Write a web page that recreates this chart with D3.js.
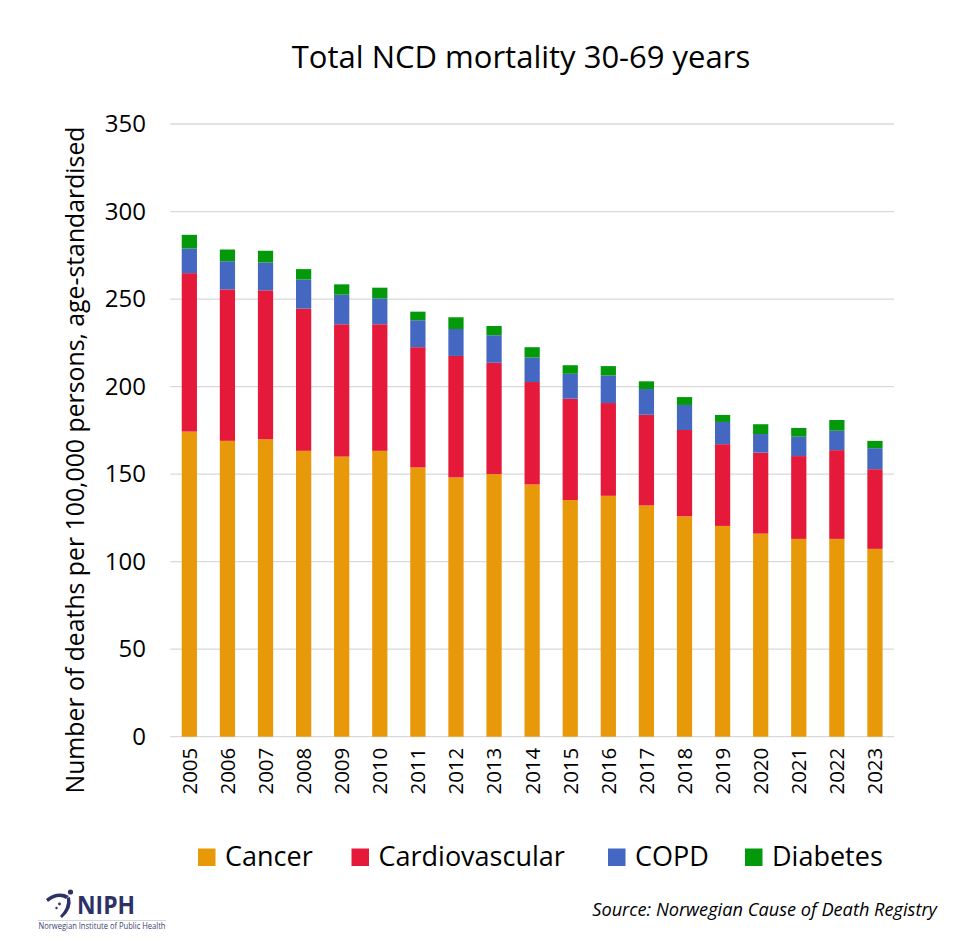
<!DOCTYPE html>
<html><head><meta charset="utf-8">
<script src="https://cdn.jsdelivr.net/npm/d3@7"></script>
<style>body{margin:0;background:#fff}svg{display:block}</style>
</head><body>
<svg id="c" width="970" height="943"></svg>
<script>
const years = ["2005","2006","2007","2008","2009","2010","2011","2012","2013","2014","2015","2016","2017","2018","2019","2020","2021","2022","2023"];
const cancer = [174.3,169.0,169.9,163.3,160.0,163.3,153.8,148.1,150.0,144.1,135.2,137.6,132.1,125.9,120.4,116.0,113.0,113.0,107.3];
const cardiovascular = [90.5,86.5,85.1,81.2,75.6,72.3,68.7,69.4,63.6,58.5,57.9,53.0,51.8,49.3,46.7,46.3,47.3,50.7,45.5];
const copd = [14.1,16.1,15.9,16.7,16.9,14.8,15.4,15.4,15.7,14.0,14.2,15.8,14.7,14.3,12.7,10.6,11.1,11.1,12.0];
const diabetes = [7.8,6.7,6.7,5.9,5.9,6.1,4.9,6.7,5.3,5.9,4.9,5.3,4.4,4.5,4.0,5.6,5.0,6.1,4.2];
const seriesNames = ["Cancer","Cardiovascular","COPD","Diabetes"];
const yTicks = [0,50,100,150,200,250,300,350];

(function(){
const colors = {"Cancer":"#E8990A","Cardiovascular":"#E51A3A","COPD":"#4467C2","Diabetes":"#03990A"};
const rows = years.map((y,i)=>({year:y,"Cancer":cancer[i],"Cardiovascular":cardiovascular[i],"COPD":copd[i],"Diabetes":diabetes[i]}));

const svg = d3.select("#c");
const pLeft = 170.3, pRight = 894, pTop = 124, pBottom = 736.7;
const x = d3.scaleBand().domain(years).range([pLeft,pRight]).paddingInner(0.6).paddingOuter(0.3);
const y = d3.scaleLinear().domain([0,350]).range([pBottom,pTop]);

svg.append("g").selectAll("line").data(yTicks).join("line")
  .attr("x1",pLeft).attr("x2",pRight)
  .attr("y1",d=>y(d)).attr("y2",d=>y(d))
  .attr("stroke","#d9d9d9").attr("stroke-width",1.3);

const yAxis = d3.axisLeft(y).tickValues(yTicks).tickSize(0).tickPadding(0);
const yg = svg.append("g").attr("transform",`translate(146,0)`).call(yAxis);
yg.select(".domain").remove();
yg.selectAll("text").attr("font-family","'Open Sans', sans-serif").attr("font-size",24).attr("fill","#000");

const stack = d3.stack().keys(seriesNames)(rows);
svg.append("g").selectAll("g").data(stack).join("g")
  .attr("fill",d=>colors[d.key])
  .selectAll("rect").data(d=>d).join("rect")
  .attr("x",d=>x(d.data.year)).attr("width",x.bandwidth())
  .attr("y",d=>y(d[1])).attr("height",d=>y(d[0])-y(d[1]));

const xAxis = d3.axisBottom(x).tickSize(0).tickPadding(0);
const xg = svg.append("g").attr("transform",`translate(0,${pBottom})`).call(xAxis);
xg.select(".domain").remove();
xg.selectAll("text")
  .attr("font-family","'Open Sans', sans-serif").attr("font-size",20.5).attr("fill","#000")
  .attr("transform","rotate(-90)").attr("text-anchor","end")
  .attr("x",-11).attr("y",0).attr("dy","0.36em");

svg.append("text").attr("x",521).attr("y",68).attr("text-anchor","middle")
  .attr("font-family","'Open Sans', sans-serif").attr("font-size",31).attr("fill","#000")
  .text("Total NCD mortality 30-69 years");

svg.append("text").attr("transform","translate(84,460) rotate(-90)").attr("text-anchor","middle")
  .attr("font-family","'Open Sans', sans-serif").attr("font-size",24.8).attr("fill","#000")
  .text("Number of deaths per 100,000 persons, age-standardised");

const legendX = [198,351.5,608,745];
const lg = svg.append("g");
seriesNames.forEach((n,i)=>{
  lg.append("rect").attr("x",legendX[i]).attr("y",848.5).attr("width",17.5).attr("height",17.5).attr("fill",colors[n]);
  lg.append("text").attr("x",legendX[i]+27).attr("y",866)
    .attr("font-family","'Open Sans', sans-serif").attr("font-size",27).attr("fill","#000").text(n);
});

svg.append("text").attr("x",937).attr("y",916).attr("text-anchor","end")
  .attr("font-family","'Open Sans', sans-serif").attr("font-style","italic").attr("font-size",18.2).attr("fill","#000")
  .text("Source: Norwegian Cause of Death Registry");

const logo = svg.append("g").attr("fill","#2D3166");
logo.append("path").attr("d","M46,899 Q58,890 69,896 L66,899 Q58,894 48,902 Z");
logo.append("circle").attr("cx",70.5).attr("cy",892).attr("r",2.6);
logo.append("path").attr("d","M70,897 Q73,909 62,918 L60,916 Q68,908 67,898 Z");
logo.append("circle").attr("cx",59.5).attr("cy",904).attr("r",1.4);
logo.append("circle").attr("cx",56.5).attr("cy",908).attr("r",1.2);
logo.append("text").attr("x",77).attr("y",913.5).attr("font-family","'Open Sans', sans-serif").attr("font-weight","bold")
  .attr("font-size",24.5).attr("textLength",58).attr("lengthAdjust","spacingAndGlyphs").text("NIPH");
logo.append("line").attr("x1",38).attr("x2",166).attr("y1",920.5).attr("y2",920.5).attr("stroke","#c8c8d0").attr("stroke-width",0.8);
logo.append("text").attr("x",38.5).attr("y",929).attr("font-family","'Open Sans', sans-serif")
  .attr("font-size",8.3).attr("fill","#3b3f70").attr("textLength",127).attr("lengthAdjust","spacingAndGlyphs").text("Norwegian Institute of Public Health");
})();
</script>
</body></html>
